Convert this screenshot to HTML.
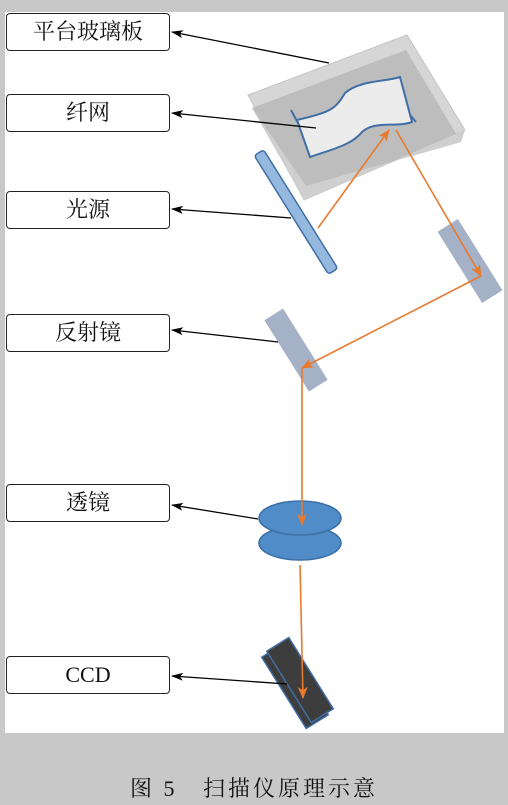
<!DOCTYPE html>
<html><head><meta charset="utf-8"><style>
body{margin:0;width:508px;height:805px;background:#c8c8c8;overflow:hidden;font-family:"Liberation Serif","Noto Serif CJK SC",serif}
.lbl{position:absolute;left:6px;width:162px;height:36px;border:1.5px solid #222;border-radius:4px;background:#fff;font-size:22px;line-height:36px;text-align:center;color:#111}
</style></head><body>
<div style="position:absolute;left:5px;top:12px;width:499px;height:721px;background:#fff"></div>
<svg style="position:absolute;left:0;top:0" width="508" height="805">
<defs>
<marker id="ab" markerWidth="12" markerHeight="8" refX="11" refY="4" orient="auto" markerUnits="userSpaceOnUse"><path d="M0,0L12,4L0,8L3,4Z" fill="#000"/></marker>
<marker id="ao" markerWidth="12" markerHeight="10" refX="11" refY="5" orient="auto" markerUnits="userSpaceOnUse"><path d="M0,0L12,5L0,10L3,5Z" fill="#e87a2e"/></marker>
</defs>
<!-- glass plate -->
<polygon points="248,95 407,35 465,130 304,200" fill="#d6d6d6" stroke="#c4c4c4"/>
<polygon points="252,108 406,50 461,142 306,186" fill="#bdbdbd"/>
<polygon points="252,108 304,200 465,130 461,142 306,186" fill="#cfcfcf"/>
<!-- fiber mesh -->
<path d="M297,120 C330,112 335,110 345,93 C360,80 385,82 400,77 L412,122 C395,128 375,120 362,132 C352,145 330,150 310,157 Z" fill="#ececec" stroke="#3f6fa5" stroke-width="2"/>
<line x1="291" y1="110" x2="299" y2="125" stroke="#3f6fa5" stroke-width="2"/>
<line x1="410" y1="115" x2="416" y2="122" stroke="#3f6fa5" stroke-width="2"/>
<!-- rod -->
<g transform="translate(296,212) rotate(58)"><rect x="-70" y="-5.5" width="140" height="11" rx="3" fill="#94b8de" stroke="#3f6fa5" stroke-width="1.5"/></g>
<!-- mirrors -->
<g transform="translate(470,261) rotate(58)"><rect x="-42" y="-12" width="84" height="24" fill="#a4b1c6"/></g>
<g transform="translate(296,350) rotate(58)"><rect x="-42" y="-11" width="84" height="22" fill="#a4b1c6"/></g>
<!-- lens -->
<ellipse cx="300" cy="543" rx="41" ry="17" fill="#4f8cc8" stroke="#3a6ea5" stroke-width="1.5"/>
<ellipse cx="300" cy="518" rx="41" ry="17" fill="#4f8cc8" stroke="#3a6ea5" stroke-width="1.5"/>
<!-- CCD -->
<g transform="translate(295,686) rotate(58)"><rect x="-42" y="-13" width="84" height="26" fill="#3d3d3d" stroke="#3f6fa5" stroke-width="1.5"/></g>
<g transform="translate(300,680) rotate(58)"><rect x="-42" y="-13" width="84" height="26" fill="#3d3d3d" stroke="#3f6fa5" stroke-width="1.5"/></g>
<!-- rays -->
<g stroke="#e87a2e" stroke-width="1.6" fill="none">
<line x1="318" y1="228" x2="389" y2="130" marker-end="url(#ao)"/>
<line x1="396" y1="130" x2="481" y2="276" marker-end="url(#ao)"/>
<line x1="481" y1="276" x2="302" y2="368" marker-end="url(#ao)"/>
<line x1="302" y1="368" x2="302" y2="525" marker-end="url(#ao)"/>
<line x1="300" y1="565" x2="303" y2="698" marker-end="url(#ao)"/>
</g>
<!-- leaders -->
<g stroke="#000" stroke-width="1.3">
<line x1="329" y1="63" x2="172" y2="32" marker-end="url(#ab)"/>
<line x1="316" y1="128" x2="172" y2="113" marker-end="url(#ab)"/>
<line x1="291" y1="218" x2="172" y2="209" marker-end="url(#ab)"/>
<line x1="278" y1="342" x2="172" y2="330" marker-end="url(#ab)"/>
<line x1="258" y1="519" x2="172" y2="505" marker-end="url(#ab)"/>
<line x1="287" y1="684" x2="172" y2="676" marker-end="url(#ab)"/>
</g>
</svg>
<div class="lbl" style="top:13px">平台玻璃板</div>
<div class="lbl" style="top:94px">纤网</div>
<div class="lbl" style="top:191px">光源</div>
<div class="lbl" style="top:314px">反射镜</div>
<div class="lbl" style="top:484px">透镜</div>
<div class="lbl" style="top:656px">CCD</div>
<div style="position:absolute;left:0;width:508px;top:772px;text-align:center;font-size:22px;color:#111;letter-spacing:3px">图 5&nbsp;&nbsp;&nbsp;扫描仪原理示意</div>
</body></html>
